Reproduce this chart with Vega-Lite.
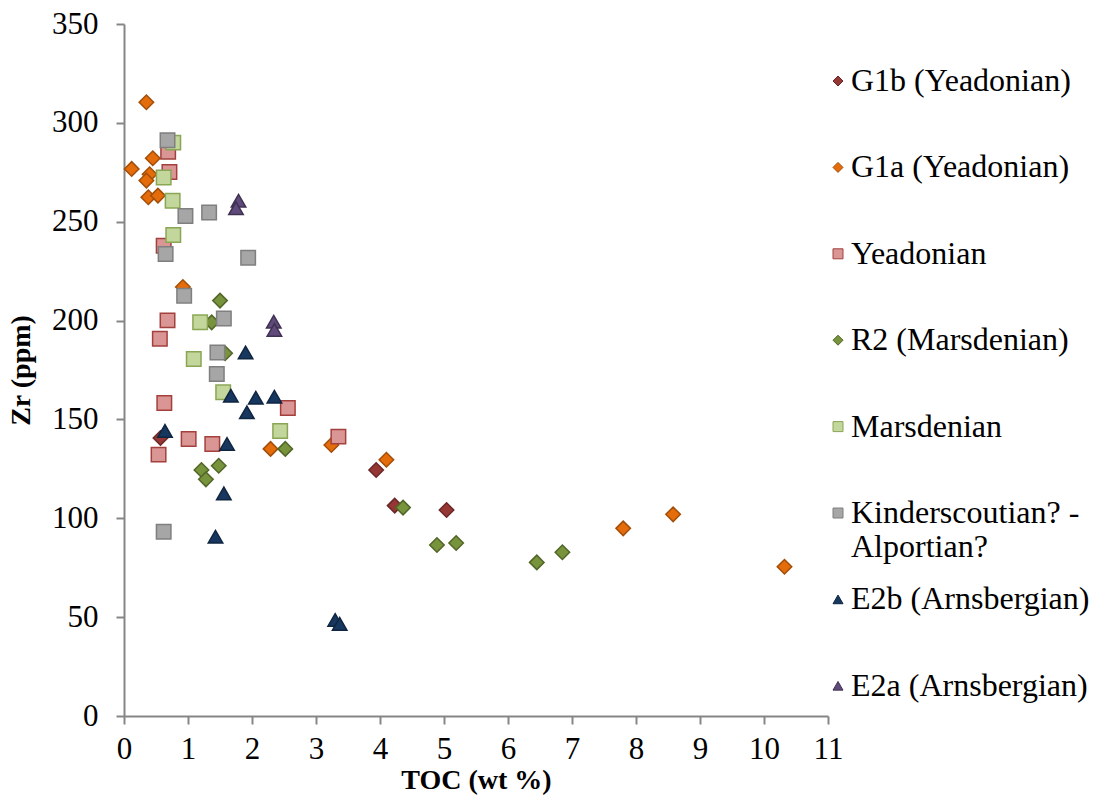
{
  "$schema": "https://vega.github.io/schema/vega-lite/v6.json",
  "autosize": {"type": "none"},
  "padding": {"left": 124, "top": 24, "right": 269, "bottom": 80},
  "width": 704,
  "height": 692,
  "background": "white",
  "data": {"values": [
    {"series": "G1b (Yeadonian)", "toc": 0.57, "zr": 140.6},
    {"series": "G1b (Yeadonian)", "toc": 3.94, "zr": 124.4},
    {"series": "G1b (Yeadonian)", "toc": 4.23, "zr": 106.4},
    {"series": "G1b (Yeadonian)", "toc": 5.04, "zr": 104.2},
    {"series": "G1a (Yeadonian)", "toc": 0.35, "zr": 310.4},
    {"series": "G1a (Yeadonian)", "toc": 0.45, "zr": 282.1},
    {"series": "G1a (Yeadonian)", "toc": 0.12, "zr": 276.7},
    {"series": "G1a (Yeadonian)", "toc": 0.40, "zr": 274.0},
    {"series": "G1a (Yeadonian)", "toc": 0.35, "zr": 270.8},
    {"series": "G1a (Yeadonian)", "toc": 0.38, "zr": 262.4},
    {"series": "G1a (Yeadonian)", "toc": 0.53, "zr": 263.2},
    {"series": "G1a (Yeadonian)", "toc": 0.92, "zr": 217.0},
    {"series": "G1a (Yeadonian)", "toc": 2.29, "zr": 135.1},
    {"series": "G1a (Yeadonian)", "toc": 3.24, "zr": 137.1},
    {"series": "G1a (Yeadonian)", "toc": 4.10, "zr": 129.6},
    {"series": "G1a (Yeadonian)", "toc": 7.80, "zr": 94.9},
    {"series": "G1a (Yeadonian)", "toc": 8.58, "zr": 102.0},
    {"series": "G1a (Yeadonian)", "toc": 10.32, "zr": 75.5},
    {"series": "Yeadonian", "toc": 0.69, "zr": 285.4},
    {"series": "Yeadonian", "toc": 0.71, "zr": 275.2},
    {"series": "Yeadonian", "toc": 0.62, "zr": 237.9},
    {"series": "Yeadonian", "toc": 0.68, "zr": 200.1},
    {"series": "Yeadonian", "toc": 0.56, "zr": 190.8},
    {"series": "Yeadonian", "toc": 0.63, "zr": 158.3},
    {"series": "Yeadonian", "toc": 2.56, "zr": 155.8},
    {"series": "Yeadonian", "toc": 1.01, "zr": 140.1},
    {"series": "Yeadonian", "toc": 1.38, "zr": 137.6},
    {"series": "Yeadonian", "toc": 0.54, "zr": 132.2},
    {"series": "Yeadonian", "toc": 3.35, "zr": 141.3},
    {"series": "R2 (Marsdenian)", "toc": 1.50, "zr": 210.1},
    {"series": "R2 (Marsdenian)", "toc": 1.37, "zr": 199.1},
    {"series": "R2 (Marsdenian)", "toc": 1.58, "zr": 183.5},
    {"series": "R2 (Marsdenian)", "toc": 2.52, "zr": 135.1},
    {"series": "R2 (Marsdenian)", "toc": 1.21, "zr": 124.4},
    {"series": "R2 (Marsdenian)", "toc": 1.48, "zr": 126.6},
    {"series": "R2 (Marsdenian)", "toc": 1.28, "zr": 119.7},
    {"series": "R2 (Marsdenian)", "toc": 4.36, "zr": 105.4},
    {"series": "R2 (Marsdenian)", "toc": 4.89, "zr": 86.5},
    {"series": "R2 (Marsdenian)", "toc": 5.19, "zr": 87.5},
    {"series": "R2 (Marsdenian)", "toc": 6.45, "zr": 77.7},
    {"series": "R2 (Marsdenian)", "toc": 6.85, "zr": 82.8},
    {"series": "Marsdenian", "toc": 0.77, "zr": 290.0},
    {"series": "Marsdenian", "toc": 0.62, "zr": 272.4},
    {"series": "Marsdenian", "toc": 0.76, "zr": 260.6},
    {"series": "Marsdenian", "toc": 0.77, "zr": 243.3},
    {"series": "Marsdenian", "toc": 1.19, "zr": 199.1},
    {"series": "Marsdenian", "toc": 1.09, "zr": 180.6},
    {"series": "Marsdenian", "toc": 1.55, "zr": 163.7},
    {"series": "Marsdenian", "toc": 2.44, "zr": 144.2},
    {"series": "Kinderscoutian? - Alportian?", "toc": 0.68, "zr": 291.2},
    {"series": "Kinderscoutian? - Alportian?", "toc": 0.96, "zr": 252.9},
    {"series": "Kinderscoutian? - Alportian?", "toc": 1.33, "zr": 254.7},
    {"series": "Kinderscoutian? - Alportian?", "toc": 0.65, "zr": 233.7},
    {"series": "Kinderscoutian? - Alportian?", "toc": 1.94, "zr": 231.8},
    {"series": "Kinderscoutian? - Alportian?", "toc": 0.94, "zr": 212.6},
    {"series": "Kinderscoutian? - Alportian?", "toc": 1.56, "zr": 201.1},
    {"series": "Kinderscoutian? - Alportian?", "toc": 1.46, "zr": 183.9},
    {"series": "Kinderscoutian? - Alportian?", "toc": 1.45, "zr": 173.0},
    {"series": "Kinderscoutian? - Alportian?", "toc": 0.62, "zr": 93.2},
    {"series": "E2b (Arnsbergian)", "toc": 1.90, "zr": 183.9},
    {"series": "E2b (Arnsbergian)", "toc": 1.67, "zr": 162.0},
    {"series": "E2b (Arnsbergian)", "toc": 2.06, "zr": 161.0},
    {"series": "E2b (Arnsbergian)", "toc": 2.35, "zr": 161.5},
    {"series": "E2b (Arnsbergian)", "toc": 1.92, "zr": 153.6},
    {"series": "E2b (Arnsbergian)", "toc": 0.64, "zr": 144.2},
    {"series": "E2b (Arnsbergian)", "toc": 1.61, "zr": 137.6},
    {"series": "E2b (Arnsbergian)", "toc": 1.56, "zr": 112.6},
    {"series": "E2b (Arnsbergian)", "toc": 1.43, "zr": 90.7},
    {"series": "E2b (Arnsbergian)", "toc": 3.30, "zr": 48.6},
    {"series": "E2b (Arnsbergian)", "toc": 3.37, "zr": 46.6},
    {"series": "E2a (Arnsbergian)", "toc": 1.79, "zr": 260.6},
    {"series": "E2a (Arnsbergian)", "toc": 1.75, "zr": 256.8},
    {"series": "E2a (Arnsbergian)", "toc": 2.34, "zr": 199.4},
    {"series": "E2a (Arnsbergian)", "toc": 2.35, "zr": 195.3}
  ]},
  "mark": {"type": "point", "filled": true, "size": 210, "strokeWidth": 1.5, "opacity": 1},
  "encoding": {
    "x": {
      "field": "toc", "type": "quantitative",
      "scale": {"domain": [0, 11], "nice": false, "zero": false},
      "axis": {"title": "TOC (wt %)", "values": [0,1,2,3,4,5,6,7,8,9,10,11], "format": "d"}
    },
    "y": {
      "field": "zr", "type": "quantitative",
      "scale": {"domain": [0, 350], "nice": false},
      "axis": {"title": "Zr (ppm)", "values": [0,50,100,150,200,250,300,350], "format": "d"}
    },
    "fill": {
      "field": "series", "type": "nominal",
      "scale": {
        "domain": ["G1b (Yeadonian)", "G1a (Yeadonian)", "Yeadonian", "R2 (Marsdenian)", "Marsdenian", "Kinderscoutian? - Alportian?", "E2b (Arnsbergian)", "E2a (Arnsbergian)"],
        "range": ["#953735", "#E46C0A", "#DA9694", "#77933C", "#C3D69B", "#A6A6A6", "#17375E", "#604A7B"]
      },
      "legend": {
        "title": null,
        "orient": "none",
        "legendX": 698,
        "legendY": 42,
        "padding": 0,
        "rowPadding": 20.4,
        "clipHeight": 30,
        "symbolSize": 100,
        "symbolStrokeWidth": 1,
        "labelOffset": -3,
        "labelFont": "serif",
        "labelFontSize": 32,
        "labelColor": "#000000",
        "labelLimit": 400,
        "labelBaseline": "middle",
        "labelExpr": "datum.label == 'Kinderscoutian? - Alportian?' ? ['Kinderscoutian? -', 'Alportian?'] : [datum.label, ' ']",
        "encode": {"labels": {"update": {"font": {"value": "serif"}, "fontSize": {"value": 32}}}}
      }
    },
    "stroke": {
      "field": "series", "type": "nominal",
      "scale": {
        "domain": ["G1b (Yeadonian)", "G1a (Yeadonian)", "Yeadonian", "R2 (Marsdenian)", "Marsdenian", "Kinderscoutian? - Alportian?", "E2b (Arnsbergian)", "E2a (Arnsbergian)"],
        "range": ["#6B2726", "#A34E08", "#A3403D", "#526628", "#8AA655", "#7F7F7F", "#0F2540", "#3F3151"]
      }
    },
    "shape": {
      "field": "series", "type": "nominal",
      "scale": {
        "domain": ["G1b (Yeadonian)", "G1a (Yeadonian)", "Yeadonian", "R2 (Marsdenian)", "Marsdenian", "Kinderscoutian? - Alportian?", "E2b (Arnsbergian)", "E2a (Arnsbergian)"],
        "range": ["diamond", "diamond", "square", "diamond", "square", "square", "triangle-up", "triangle-up"]
      }
    }
  },
  "config": {
    "view": {"stroke": null},
    "font": "serif",
    "style": {"guide-label": {"font": "serif"}},
    "legend": {"labelFont": "serif"},
    "axis": {
      "grid": false,
      "domainColor": "#868686",
      "domainWidth": 2,
      "tickColor": "#868686",
      "tickWidth": 2,
      "tickSize": 8,
      "labelFont": "serif",
      "labelFontSize": 31,
      "labelColor": "#000000",
      "titleFont": "serif",
      "titleFontSize": 28,
      "titleFontWeight": "bold",
      "titleColor": "#000000"
    },
    "axisX": {"labelPadding": 10, "titlePadding": 2, "labelFlush": false},
    "axisY": {"labelPadding": 18, "titlePadding": 16, "labelFlush": false}
  }
}
